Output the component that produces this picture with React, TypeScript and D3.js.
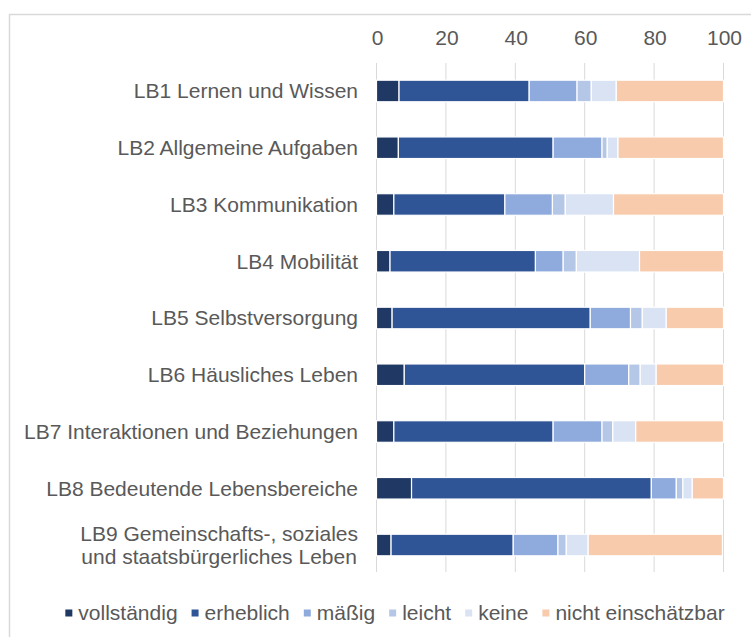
import React, { useEffect, useRef } from "react";
import * as d3 from "d3";

const categories: string[][] = [
  ["LB1 Lernen und Wissen"],
  ["LB2 Allgemeine Aufgaben"],
  ["LB3 Kommunikation"],
  ["LB4 Mobilität"],
  ["LB5 Selbstversorgung"],
  ["LB6 Häusliches Leben"],
  ["LB7 Interaktionen und Beziehungen"],
  ["LB8 Bedeutende Lebensbereiche"],
  ["LB9 Gemeinschafts-, soziales", "und staatsbürgerliches Leben"],
];

const seriesNames = ["vollständig", "erheblich", "mäßig", "leicht", "keine", "nicht einschätzbar"];

const vollstaendig = [6.5, 6.3, 5.0, 3.9, 4.5, 8.0, 5.0, 10.1, 4.2];
const erheblich = [37.5, 44.6, 32.0, 41.9, 57.1, 52.0, 45.9, 69.1, 35.2];
const maessig = [13.8, 14.1, 13.7, 8.0, 11.6, 12.7, 14.1, 7.2, 12.9];
const leicht = [4.1, 1.5, 3.7, 3.8, 3.4, 3.3, 3.1, 1.9, 2.4];
const keine = [7.2, 3.1, 13.9, 18.2, 6.9, 4.6, 6.6, 2.7, 6.3];
const nichtEinschaetzbar = [30.9, 30.4, 31.7, 24.2, 16.5, 19.4, 25.3, 9.0, 38.7];

const xTicks = [0, 20, 40, 60, 80, 100];

const colors = ["#1f3864", "#2f5597", "#8faadc", "#b4c7e7", "#dae3f3", "#f8cbad"];

export default function App() {
  const ref = useRef<SVGSVGElement>(null);

  useEffect(() => {
    const svg = d3.select(ref.current);
    svg.selectAll("*").remove();
    const font = "'Liberation Sans', Arial, sans-serif";
    const textColor = "#595959";
    const fs = 21;

    const rows = categories.map((c, i) => ({
      key: c.join(" "),
      lines: c,
      values: [vollstaendig[i], erheblich[i], maessig[i], leicht[i], keine[i], nichtEinschaetzbar[i]],
    }));

    const x = d3.scaleLinear().domain([0, 100]).range([376.5, 723.5]);
    const y = d3
      .scaleBand<string>()
      .domain(rows.map((r) => r.key))
      .range([62.6, 573.4])
      .paddingInner(0.62)
      .paddingOuter(0.31);

    // border
    svg
      .append("rect")
      .attr("x", 9.5)
      .attr("y", 14.5)
      .attr("width", 800)
      .attr("height", 700)
      .attr("fill", "#fff")
      .attr("stroke", "#d9d9d9")
      .attr("stroke-width", 1.5);

    // gridlines
    svg
      .append("g")
      .selectAll("line")
      .data(xTicks)
      .join("line")
      .attr("x1", (d) => x(d))
      .attr("x2", (d) => x(d))
      .attr("y1", 63)
      .attr("y2", 572)
      .attr("stroke", "#d9d9d9")
      .attr("stroke-width", 1);

    // tick labels
    svg
      .append("g")
      .selectAll("text")
      .data(xTicks)
      .join("text")
      .attr("x", (d) => x(d) + 1)
      .attr("y", 45)
      .attr("text-anchor", "middle")
      .attr("font-family", font)
      .attr("font-size", fs)
      .attr("fill", textColor)
      .text((d) => String(d));

    // bars
    const stackData = rows.map((r) => {
      let acc = 0;
      return r.values.map((v, k) => {
        const s = { key: r.key, x0: acc, x1: acc + v, k };
        acc += v;
        return s;
      });
    });
    svg
      .append("g")
      .selectAll("g")
      .data(stackData)
      .join("g")
      .selectAll("rect")
      .data((d) => d)
      .join("rect")
      .attr("x", (d) => x(d.x0))
      .attr("y", (d) => y(d.key)!)
      .attr("width", (d) => Math.max(0, x(d.x1) - x(d.x0)))
      .attr("height", y.bandwidth())
      .attr("fill", (d) => colors[d.k])
      .attr("stroke", "#fff")
      .attr("stroke-width", 1.2);

    // category labels
    const labelRight = 358;
    const lineH = 23;
    rows.forEach((r) => {
      const cy = y(r.key)! + y.bandwidth() / 2;
      const g = svg.append("g");
      const texts = r.lines.map((ln, j) =>
        g
          .append("text")
          .attr("y", cy + (j - (r.lines.length - 1) / 2) * lineH)
          .attr("dy", "0.35em")
          .attr("font-family", font)
          .attr("font-size", fs)
          .attr("fill", textColor)
          .attr("text-anchor", "middle")
          .text(ln)
      );
      const widths = texts.map((t) => (t.node() as SVGTextElement).getComputedTextLength());
      const maxW = Math.max(...widths);
      const cx = labelRight - maxW / 2;
      texts.forEach((t) => t.attr("x", cx));
    });

    // legend
    const lg = svg.append("g");
    const sq = 7;
    const gapText = 6;
    const gapItem = 14;
    const items = seriesNames.map((name, k) => {
      const item = lg.append("g");
      item.append("rect").attr("width", sq).attr("height", sq).attr("y", -sq / 2).attr("fill", colors[k]);
      const t = item
        .append("text")
        .attr("x", sq + gapText)
        .attr("dy", "0.35em")
        .attr("font-family", font)
        .attr("font-size", fs)
        .attr("fill", textColor)
        .text(name);
      const w = sq + gapText + (t.node() as SVGTextElement).getComputedTextLength();
      return { item, w };
    });
    const total = d3.sum(items, (d) => d.w) + gapItem * (items.length - 1);
    let cur = 395 - total / 2;
    items.forEach((it) => {
      it.item.attr("transform", `translate(${cur},613)`);
      cur += it.w + gapItem;
    });
  }, []);

  return (
    <svg
      ref={ref}
      width={751}
      height={637}
      style={{ position: "absolute", left: 0, top: 0, background: "#fff" }}
    />
  );
}
